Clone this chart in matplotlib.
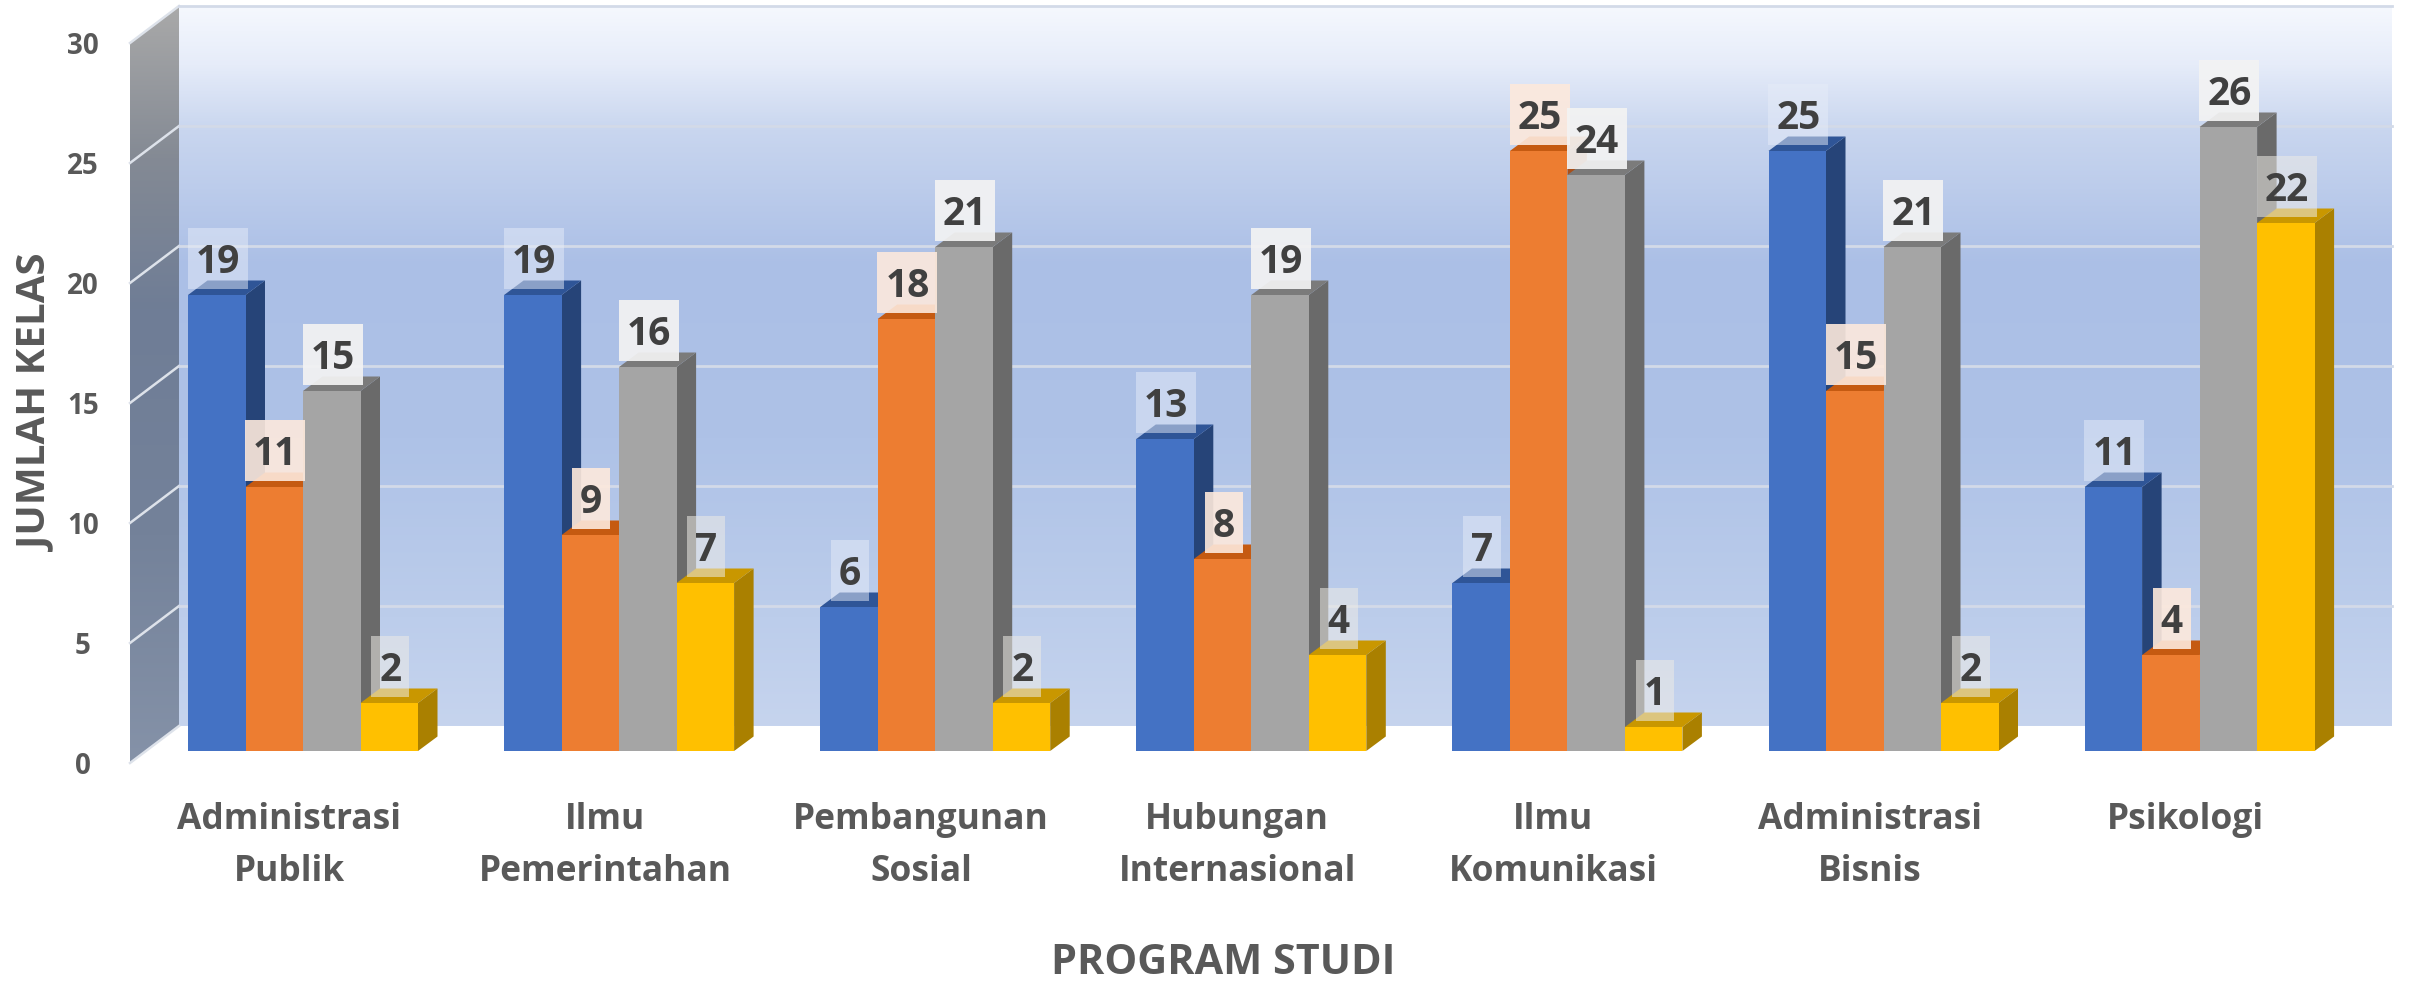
import numpy as np
import matplotlib
matplotlib.use("Agg")
import matplotlib.pyplot as plt
from matplotlib.colors import LinearSegmentedColormap
from matplotlib.patches import Polygon, Rectangle

categories = ["Administrasi\nPublik", "Ilmu\nPemerintahan", "Pembangunan\nSosial",
              "Hubungan\nInternasional", "Ilmu\nKomunikasi", "Administrasi\nBisnis", "Psikologi"]
series_1 = [19, 19, 6, 13, 7, 25, 11]
series_2 = [11, 9, 18, 8, 25, 15, 4]
series_3 = [15, 16, 21, 19, 24, 21, 26]
series_4 = [2, 7, 2, 4, 1, 2, 22]
y_ticks = [0, 5, 10, 15, 20, 25, 30]

front = ["#4472C4", "#ED7D31", "#A5A5A5", "#FFC000"]
top = ["#2F5597", "#C55A11", "#7B7B7B", "#C99700"]
side = ["#264478", "#A9501A", "#6A6A6A", "#AA8000"]
box = [("#E6ECF8", 0.5), ("#FDE9DC", 0.9), ("#F3F3F3", 0.92), ("#EDEBE6", 0.55)]

plt.rcParams["font.family"] = ["Open Sans", "DejaVu Sans"]
plt.rcParams["font.weight"] = "bold"
text_col = "#595959"

W, H = 2409, 985
GROUP = 316.1   # px per category
UNIT = 24.0     # px per value
X0, Y0 = 303.0, 751.0   # px of first category centre / value 0

def px(x):
    return (x - X0) / GROUP

def py(y):
    return (Y0 - y) / UNIT

fig = plt.figure(figsize=(W / 100, H / 100), dpi=100)
ax = fig.add_axes([0, 0, 1, 1])

# back wall
wall_cmap = LinearSegmentedColormap.from_list("wall", [
    (0.0, "#F5F8FE"), (0.08, "#E6ECF9"), (0.17, "#C9D6EF"), (0.36, "#ABBFE6"),
    (0.6, "#AEC2E7"), (0.85, "#BCCDEB"), (1.0, "#C6D4EE")])
grad = np.linspace(0, 1, 256).reshape(-1, 1)
ax.imshow(grad, cmap=wall_cmap, aspect="auto", zorder=1,
          extent=[px(179), px(2392), py(726), py(6)])

# left wall
side_cmap = LinearSegmentedColormap.from_list("sidewall", [
    (0.0, "#A9A9A9"), (0.2, "#848A94"), (0.4, "#6F7D96"), (0.7, "#74829A"), (1.0, "#8592A8")])
im = ax.imshow(grad, cmap=side_cmap, aspect="auto", zorder=1,
               extent=[px(130), px(179), py(763), py(6)])
clip = Polygon([(px(130), py(43)), (px(179), py(6)), (px(179), py(726)), (px(130), py(763))],
               transform=ax.transData, fc="none", ec="none")
ax.add_patch(clip)
im.set_clip_path(clip)

# gridlines
for v in y_ticks:
    yw = py(726) + v
    yf = py(763) + v
    ax.plot([px(130), px(179)], [yf, yw], color="#DDE2EA", lw=1.8, zorder=2)
    if v > 0:
        ax.plot([px(179), px(2392)], [yw, yw], color="#D3DAE8", lw=2, zorder=2)

# bars
series = [series_1, series_2, series_3, series_4]
bar_w = 57.5 / GROUP
dx = 19.5 / GROUP
dy = 14.5 / UNIT
z = 3
for i in range(len(categories)):
    for s, vals in enumerate(series):
        v = vals[i]
        left = i + (s - 2) * bar_w
        right = left + bar_w
        ax.add_patch(Polygon([(right, 0), (right + dx, dy), (right + dx, v + dy), (right, v)],
                             fc=side[s], ec="none", zorder=z))
        ax.add_patch(Polygon([(left, v), (left + dx, v + dy), (right + dx, v + dy), (right, v)],
                             fc=top[s], ec="none", zorder=z))
        ax.bar(left, v, width=bar_w, align="edge", color=front[s], zorder=z)
        z += 0.01

# data labels
box_h = 61 / UNIT
for i in range(len(categories)):
    for s, vals in enumerate(series):
        v = vals[i]
        cx = i + (s - 2) * bar_w + bar_w / 2 + 1 / GROUP
        bw = (60 if v >= 10 else 38) / GROUP
        ax.add_patch(Rectangle((cx - bw / 2, v + 6.5 / UNIT), bw, box_h, fc=box[s][0],
                               alpha=box[s][1], ec="none", zorder=9))
        ax.text(cx, v + 22 / UNIT, str(v), ha="center", va="baseline", fontsize=28,
                color="#404040", zorder=10)

# axis text
for v in y_ticks:
    ax.text(px(83), py(766) + v, str(v), ha="center", va="center", fontsize=20, color=text_col)
for i, c in enumerate(categories):
    ax.text(i - 14 / GROUP, py(802), c, ha="center", va="top", fontsize=25.5,
            color=text_col, linespacing=1.58)
ax.text(px(37), py(403), "JUMLAH KELAS", rotation=90, ha="center", va="center",
        fontsize=29, color=text_col)
ax.text(px(1223), py(974), "PROGRAM STUDI", ha="center", va="baseline", fontsize=29.8, color=text_col)

ax.set_xlim(px(0), px(W))
ax.set_ylim(py(H), py(0))
ax.axis("off")
fig.savefig("out.png", dpi=100, facecolor="white")
